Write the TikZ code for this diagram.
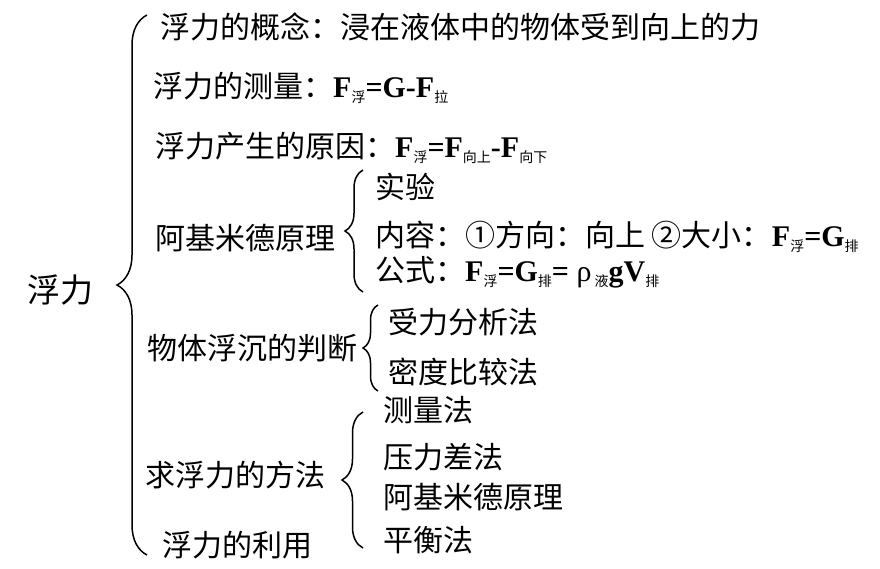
\documentclass[tikz,border=0pt]{standalone}
\usepackage{fontspec}
\setmainfont{Noto Sans CJK SC}
\newfontfamily\lat{Liberation Serif}
\usetikzlibrary{decorations.pathreplacing}

\newcommand{\xb}[1]{\raisebox{-0.35ex}{\fontsize{14}{14}\selectfont #1}}
\newcommand{\fm}[1]{{\lat\bfseries #1}}

\begin{document}
\begin{tikzpicture}[x=1pt, y=-1pt,
    every node/.style={inner sep=0pt, anchor=west, font=\fontsize{30}{33}\selectfont},
    kuo/.style={decorate, line width=1.5pt, decoration={brace, amplitude=#1}}]
    \useasboundingbox (0,0) rectangle (880,569);

    \node (root) at (27,290) [font=\fontsize{33}{36}\selectfont] {浮力};

    % first level
    \node (gn) at (160,27) {浮力的概念：浸在液体中的物体受到向上的力};
    \node (cl) at (153,88) {浮力的测量：\fm{F}\xb{浮}\fm{=G-F}\xb{拉}};
    \node (yy) at (155,148) {浮力产生的原因：\fm{F}\xb{浮}\fm{=F}\xb{向上}\fm{-F}\xb{向下}};
    \node (aj) at (155,238) {阿基米德原理};
    \node (fc) at (147,348) {物体浮沉的判断};
    \node (ff) at (145,475) {求浮力的方法};
    \node (ly) at (162,545) {浮力的利用};

    % archimedes
    \node (sy) at (375,187) {实验};
    \node (nr) at (375,237) {内容：①方向：向上 ②大小：\fm{F}\xb{浮}\fm{=G}\xb{排}};
    \node (gs) at (375,272) {公式：\fm{F}\xb{浮}\fm{=G}\xb{排}\fm{= }{\lat ρ}\xb{ 液}\fm{gV}\xb{排}};

    % floating and sinking
    \node (sl) at (388,322) {受力分析法};
    \node (md) at (388,372) {密度比较法};

    % methods
    \node (m1) at (383,410) {测量法};
    \node (m2) at (383,457) {压力差法};
    \node (m3) at (383,497) {阿基米德原理};
    \node (m4) at (383,540) {平衡法};

    % braces
    \draw [kuo=30] (147,555) -- (147,15);
    \draw [kuo=18] (363,292) -- (363,170);
    \draw [kuo=15] (378,391) -- (378,305);
    \draw [kuo=21] (363,548) -- (363,412);

\end{tikzpicture}
\end{document}
